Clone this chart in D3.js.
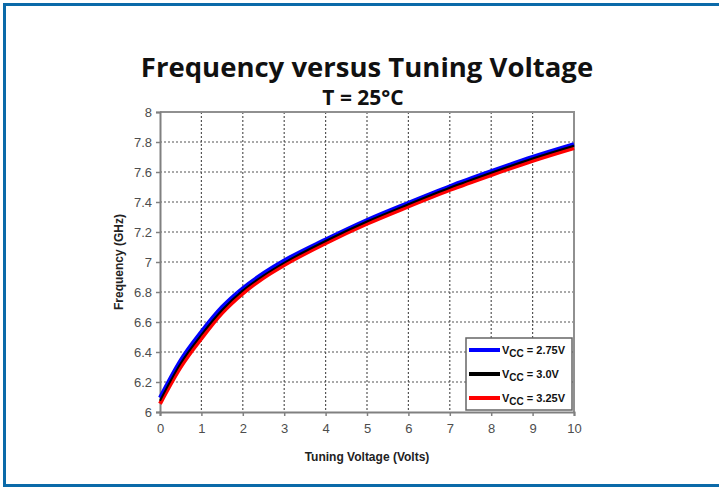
<!DOCTYPE html>
<html>
<head>
<meta charset="utf-8">
<script src="https://cdn.jsdelivr.net/npm/d3@7"></script>
<style>
  body { margin: 0; background: #fff; }
  svg { display: block; }
</style>
</head>
<body>
<div id="chart"></div>
<script>
// tuning voltage (V)
const voltage = [0, 0.5, 1, 1.5, 2, 2.5, 3, 4, 5, 6, 7, 8, 9, 10];
// frequency (GHz)
const freq275 = [6.095, 6.345, 6.535, 6.70, 6.825, 6.925, 7.01, 7.15, 7.28, 7.395, 7.505, 7.605, 7.70, 7.785];
const freq300 = [6.075, 6.325, 6.515, 6.68, 6.81, 6.91, 6.995, 7.14, 7.27, 7.385, 7.495, 7.595, 7.69, 7.775];
const freq325 = [6.055, 6.30, 6.49, 6.66, 6.79, 6.895, 6.98, 7.125, 7.255, 7.37, 7.48, 7.58, 7.675, 7.76];

const seriesNames = ['2.75V', '3.0V', '3.25V'];
const seriesColors = ['#0000ff', '#000000', '#ff0000'];
const xTicks = [0, 1, 2, 3, 4, 5, 6, 7, 8, 9, 10];
const yTicks = [6, 6.2, 6.4, 6.6, 6.8, 7, 7.2, 7.4, 7.6, 7.8, 8];

const w = 719;
const h = 487;
const plot = {left: 160, right: 574, top: 112, bottom: 412};

const svg = d3.select('#chart')
    .append('svg')
    .attr('width', w)
    .attr('height', h);

// blue frame
svg.append('rect')
   .attr('x', 4.5)
   .attr('y', 4.5)
   .attr('width', w + 10)
   .attr('height', h - 6)
   .attr('fill', 'none')
   .attr('stroke', '#0b6aa9')
   .attr('stroke-width', 3);

const xScale = d3.scaleLinear().domain([0, 10]).range([plot.left, plot.right]);
const yScale = d3.scaleLinear().domain([6, 8]).range([plot.bottom, plot.top]);

// grid
svg.append('g')
   .selectAll('line')
   .data(xTicks.slice(1, -1))
   .enter()
   .append('line')
   .attr('x1', d => xScale(d))
   .attr('x2', d => xScale(d))
   .attr('y1', plot.top)
   .attr('y2', plot.bottom)
   .attr('stroke', '#555')
   .attr('stroke-width', 1.2)
   .attr('stroke-dasharray', '2,2');

svg.append('g')
   .selectAll('line')
   .data(yTicks.slice(1, -1))
   .enter()
   .append('line')
   .attr('x1', plot.left)
   .attr('x2', plot.right)
   .attr('y1', d => yScale(d))
   .attr('y2', d => yScale(d))
   .attr('stroke', '#555')
   .attr('stroke-width', 1.2)
   .attr('stroke-dasharray', '2,2');

// plot frame (top / right)
svg.append('path')
   .attr('d', `M${plot.left},${plot.top}H${plot.right}V${plot.bottom}`)
   .attr('fill', 'none')
   .attr('stroke', '#909090')
   .attr('stroke-width', 2);

// axes
const xAxis = d3.axisBottom(xScale).tickValues(xTicks).tickSize(4).tickPadding(8).tickFormat(d => d);
const yAxis = d3.axisLeft(yScale).tickValues(yTicks).tickSize(4).tickPadding(4).tickFormat(d => d);

const gx = svg.append('g')
   .attr('transform', `translate(0,${plot.bottom})`)
   .call(xAxis);
const gy = svg.append('g')
   .attr('transform', `translate(${plot.left},0)`)
   .call(yAxis);

[gx, gy].forEach(g => {
    g.select('.domain').attr('stroke', '#808080').attr('stroke-width', 2);
    g.selectAll('.tick line').attr('stroke', '#808080').attr('stroke-width', 1.5);
    g.selectAll('.tick text')
     .attr('fill', '#4d4d4d')
     .style('font-family', 'Liberation Sans, Arial, sans-serif')
     .style('font-size', '13px');
});

// curves: blue and red wide, black drawn last as thin centre stripe
const line = d3.line()
    .x((d, i) => xScale(voltage[i]))
    .y(d => yScale(d))
    .curve(d3.curveMonotoneX);

const curveSet = [
    {data: freq275, color: seriesColors[0], width: 4},
    {data: freq325, color: seriesColors[2], width: 4},
    {data: freq300, color: seriesColors[1], width: 2}
];
curveSet.forEach(c => {
    svg.append('path')
       .datum(c.data)
       .attr('d', line)
       .attr('fill', 'none')
       .attr('stroke', c.color)
       .attr('stroke-width', c.width);
});

// titles
svg.append('text')
   .attr('x', 367)
   .attr('y', 77)
   .attr('text-anchor', 'middle')
   .style('font-family', 'Open Sans, sans-serif')
   .style('font-weight', 'bold')
   .style('font-size', '27.5px')
   .attr('fill', '#111')
   .text('Frequency versus Tuning Voltage');

svg.append('text')
   .attr('x', 363)
   .attr('y', 105)
   .attr('text-anchor', 'middle')
   .style('font-family', 'Open Sans, sans-serif')
   .style('font-weight', 'bold')
   .style('font-size', '21px')
   .attr('fill', '#111')
   .text('T = 25°C');

svg.append('text')
   .attr('x', 367)
   .attr('y', 461)
   .attr('text-anchor', 'middle')
   .style('font-family', 'Liberation Sans, Arial, sans-serif')
   .style('font-weight', 'bold')
   .style('font-size', '12px')
   .attr('fill', '#222')
   .text('Tuning Voltage (Volts)');

svg.append('text')
   .attr('transform', 'translate(123,262) rotate(-90)')
   .attr('text-anchor', 'middle')
   .style('font-family', 'Liberation Sans, Arial, sans-serif')
   .style('font-weight', 'bold')
   .style('font-size', '12px')
   .attr('fill', '#222')
   .text('Frequency (GHz)');

// legend
const legend = svg.append('g');
legend.append('rect')
      .attr('x', 466)
      .attr('y', 338)
      .attr('width', 106)
      .attr('height', 72)
      .attr('fill', '#fff')
      .attr('stroke', '#666')
      .attr('stroke-width', 1.5);

const items = legend.selectAll('.legendItem')
    .data(seriesNames)
    .enter()
    .append('g')
    .attr('class', 'legendItem')
    .attr('transform', (d, i) => `translate(469,${350 + i * 24})`);

items.append('line')
     .attr('x1', 0)
     .attr('x2', 31)
     .attr('stroke', (d, i) => seriesColors[i])
     .attr('stroke-width', 4);

const lt = items.append('text')
     .attr('x', 33)
     .attr('y', 4)
     .style('font-family', 'Liberation Sans, Arial, sans-serif')
     .style('font-weight', 'bold')
     .style('font-size', '11px')
     .attr('fill', '#111');
lt.append('tspan').text('V');
lt.append('tspan').attr('dy', 3).style('font-size', '10px').text('CC');
lt.append('tspan').attr('dy', -3).text(d => ' = ' + d);
</script>
</body>
</html>
